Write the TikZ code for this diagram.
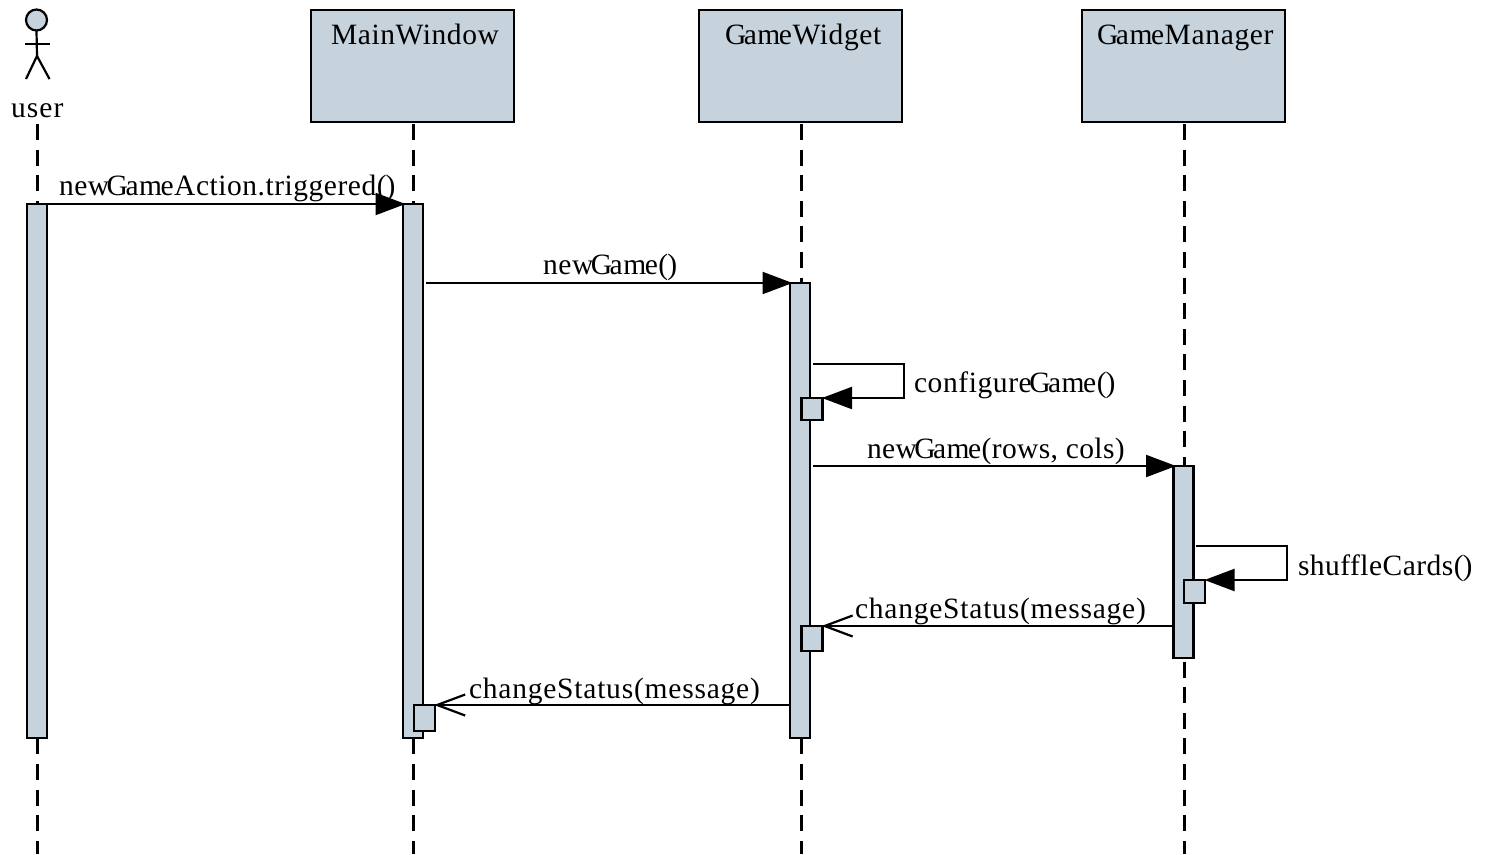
\documentclass[tikz,border=0pt]{standalone}
\usepackage{fontspec}
\setmainfont{Liberation Serif}[LetterSpace=2]
\usetikzlibrary{arrows.meta}
\definecolor{boxfill}{HTML}{C6D3DC}
\newcommand{\lsp}[1]{\addfontfeature{LetterSpace=#1}}
\newcommand{\gam}{G\kern-2.5pt am\kern-1.5pt e}
\newcommand{\pre}{\kern-2.5pt}
\newcommand{\emptyargs}{(\kern-1pt)}
\tikzset{
  x=1pt,y=1pt,
  every node/.style={inner sep=0pt,outer sep=0pt},
  ink/.style={line width=2.2pt,draw=black},
  objbox/.style={ink,fill=boxfill,rectangle,minimum width=203pt,minimum height=112pt},
  barbox/.style={ink,fill=boxfill,rectangle,minimum width=20pt},
  smallbox/.style={ink,fill=boxfill,rectangle,minimum width=21pt},
  lifeline/.style={line width=2.2pt,dash pattern=on 16pt off 9.6pt},
  callmsg/.style={ink,-{Triangle[length=30pt,width=22pt]}},
  retmsg/.style={ink,-{Straight Barb[length=28pt,width=21pt,line width=2.2pt]}},
  txt/.style={font=\fontsize{29.5}{30}\selectfont,anchor=base west},
  stick/.style={ink,line cap=butt}
}
\begin{document}
\begin{tikzpicture}
\useasboundingbox (0,0) rectangle (1488,-854);
% lifeline ends
\coordinate (endU) at (37.5,-854);
\coordinate (endM) at (413.5,-854);
\coordinate (endG) at (801.5,-854);
\coordinate (endN) at (1184.5,-854);
\coordinate (startU) at (37.5,-124);
% objects
\node[objbox] (mw) at (412.5,-66) {};
\node[objbox] (gw) at (800.5,-66) {};
\node[objbox] (gmg) at (1183.5,-66) {};
\node[txt] (mwt) at (331,-44) {MainWindow};
\node[txt] (gwt) at (725,-44) {\gam Widget};
\node[txt] (gmt) at (1097,-44) {\lsp{2.2}\gam Manager};
% actor
\node[ink,fill=boxfill,circle,minimum size=21pt] (head) at (36.5,-20) {};
\coordinate (hip) at (37,-56);
\coordinate (armL) at (25,-44);
\coordinate (armR) at (50,-44);
\coordinate (legL) at (26,-79);
\coordinate (legR) at (49.5,-79);
\draw[stick] (head.south) -- (hip);
\draw[stick] (armL) -- (armR);
\draw[stick] (legL) -- (hip) -- (legR);
\node[txt] (usert) at (11,-117) {\lsp{3.7}user};
% lifelines
\draw[lifeline] (startU) -- (endU);
\draw[lifeline] ([yshift=-2pt]mw.south -| endM) -- (endM);
\draw[lifeline] ([yshift=-2pt]gw.south -| endG) -- (endG);
\draw[lifeline] ([yshift=-2pt]gmg.south -| endN) -- (endN);
% activation bars
\node[barbox,minimum height=534pt] (ub) at (37,-471) {};
\node[barbox,minimum height=534pt] (mb) at (413,-471) {};
\node[barbox,minimum height=455pt] (gb) at (800,-510.5) {};
\node[barbox,minimum height=192pt] (nb) at (1183.5,-562) {};
\node[smallbox,minimum height=22pt] (s1) at (812,-409) {};
\node[smallbox,minimum height=25pt] (s2) at (812,-638.5) {};
\node[smallbox,minimum height=23pt] (s3) at (1194.5,-591.5) {};
\node[smallbox,minimum height=26pt] (s4) at (424.5,-718) {};
% loop corners
\coordinate (c1) at (904,-364);
\coordinate (c2) at (1287,-546);
% messages
\draw[callmsg] ([xshift=1pt]ub.north east) -- ([xshift=2.5pt]mb.north west);
\draw[callmsg] ([xshift=3pt]mb.east |- gb.north) -- ([xshift=2.5pt]gb.north west);
\draw[callmsg] ([xshift=3pt]gb.east |- c1) -- (c1) -- (c1 |- s1.north) -- ([xshift=-0.5pt]s1.north east);
\draw[callmsg] ([xshift=3pt]gb.east |- nb.north) -- ([xshift=2.5pt]nb.north west);
\draw[callmsg] ([xshift=2pt]nb.east |- c2) -- (c2) -- (c2 |- s3.north) -- ([xshift=-0.5pt]s3.north east);
\draw[retmsg] (nb.west |- s2.north) -- ([xshift=-1pt]s2.north east);
\draw[retmsg] (gb.west |- s4.north) -- ([xshift=-1pt]s4.north east);
% labels
\node[txt] (l1) at (59,-195) {\lsp{1.8}new\pre\gam Action.triggered\emptyargs};
\node[txt] (l2) at (543,-274) {new\pre\gam\emptyargs};
\node[txt] (l3) at (914,-392) {\lsp{2}configure\pre\gam\emptyargs};
\node[txt] (l4) at (867,-458) {\lsp{1.3}new\pre\gam(rows, cols)};
\node[txt] (l5) at (1298,-575) {\lsp{1.6}shuffleCards\emptyargs};
\node[txt] (l6) at (855,-618) {\lsp{2.65}changeStatus(message)};
\node[txt] (l7) at (469,-698) {\lsp{2.65}changeStatus(message)};
\end{tikzpicture}
\end{document}
